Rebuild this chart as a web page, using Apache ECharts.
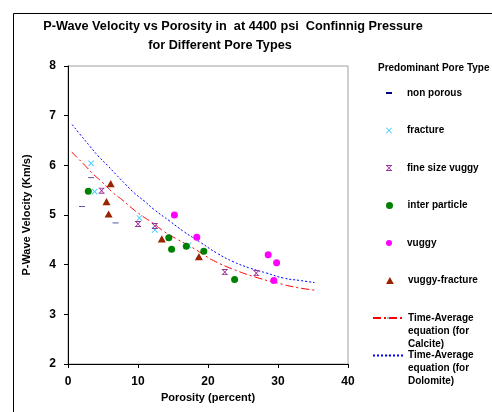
<!DOCTYPE html>
<html><head><meta charset="utf-8">
<script src="https://cdn.jsdelivr.net/npm/echarts@6/dist/echarts.min.js"></script>
<style>html,body{margin:0;padding:0;background:#fff}#c{width:492px;height:412px}</style>
</head><body><div id="c"></div>
<script>
var titleLine1 = 'P-Wave Velocity vs Porosity in  at 4400 psi  Confinnig Pressure';
var titleLine2 = 'for Different Pore Types';
var xName = 'Porosity (percent)';
var yName = 'P-Wave Velocity (Km/s)';
var legendTitle = 'Predominant Pore Type';
var seriesNames = ['non porous','fracture','fine size vuggy','inter particle','vuggy','vuggy-fracture',
  'Time-Average\nequation (for\nCalcite)','Time-Average\nequation (for\nDolomite)'];

var nonPorous = [[2.0,5.17],[3.3,5.75],[6.8,4.84]];
var fracture = [[3.3,6.04],[3.8,5.47],[10.2,4.94],[12.4,4.70],[17.2,4.39]];
var fineVuggy = [[4.8,5.49],[10.0,4.82],[12.4,4.78],[22.4,3.85],[26.9,3.83]];
var interParticle = [[2.9,5.48],[14.4,4.54],[14.8,4.31],[16.9,4.37],[19.4,4.27],[23.8,3.70]];
var vuggy = [[15.2,5.00],[18.4,4.55],[28.6,4.20],[29.8,4.04],[29.4,3.68]];
var vuggyFracture = [[6.1,5.63],[5.5,5.27],[5.8,5.02],[13.4,4.52],[18.7,4.16]];

var calcite = [[0.5,6.27],[2.2,6.03],[3.7,5.81],[4.9,5.66],[6.5,5.44],[7.7,5.31],[9.1,5.14],[10.6,4.98],
  [12.0,4.85],[13.7,4.67],[15.6,4.51],[17.7,4.35],[19.4,4.20],[20.8,4.08],[23.9,3.89],[27.0,3.74],
  [29.9,3.63],[32.7,3.54],[35.6,3.48]];
var dolomite = [[0.6,6.82],[1.8,6.61],[3.1,6.39],[4.3,6.19],[5.7,5.99],[6.9,5.81],[8.2,5.62],[9.5,5.44],
  [11.0,5.27],[12.2,5.12],[14.6,4.87],[16.5,4.67],[18.9,4.45],[21.3,4.23],[23.6,4.06],[26.0,3.93],
  [28.4,3.83],[30.8,3.73],[33.2,3.68],[35.2,3.64]];

var xTicks = {min:0, max:40, interval:10};
var yTicks = {min:2, max:8, interval:1};

var FONT = 'Liberation Sans, Arial, sans-serif';
var symDash = 'path://M0,0 L3,0 L3,1 L0,1 Z';
var symX = 'path://M0,1 L1,0 L5,4 L9,0 L10,1 L6,5 L10,9 L9,10 L5,6 L1,10 L0,9 L4,5 Z';
var symAst = 'path://M0,0 L10,0 L10,1.6 L0,1.6 Z M0,8.4 L10,8.4 L10,10 L0,10 Z M1,1.6 L2.8,1.6 L5,4 L7.2,1.6 L9,1.6 L6,5 L9,8.4 L7.2,8.4 L5,6 L2.8,8.4 L1,8.4 L4,5 Z';
var symTri = 'path://M5,0 L10,9 L0,9 Z';

var scatterDefs = [
  {data:nonPorous, symbol:symDash, size:[6,2], color:'#000080', lh:2},
  {data:fracture, symbol:symX, size:6, color:'#33CCFF', lh:6},
  {data:fineVuggy, symbol:symAst, size:6, color:'#993399', lh:6},
  {data:interParticle, symbol:'circle', size:7, color:'#008000', lh:7},
  {data:vuggy, symbol:'circle', size:7, color:'#FF00FF', lh:6},
  {data:vuggyFracture, symbol:symTri, size:8, color:'#992200', lh:7}
];
var legendCenters = [93,130.5,168,205.5,243,280.5];

var series = [];
var legends = [];
series.push({name:seriesNames[6], type:'line', data:calcite, showSymbol:false, symbol:'none', smooth:true, z:1,
  lineStyle:{color:'#FF0000', width:1, type:[8,3,2,3]}});
series.push({name:seriesNames[7], type:'line', data:dolomite, showSymbol:false, symbol:'none', smooth:true, z:1,
  lineStyle:{color:'#0000FF', width:1, type:[2,2]}});
scatterDefs.forEach(function(d,i){
  series.push({name:seriesNames[i], type:'scatter', data:d.data, symbol:d.symbol, symbolSize:d.size,
    symbolKeepAspect:true, itemStyle:{color:d.color, opacity:1}, z:3});
  legends.push({data:[seriesNames[i]], orient:'vertical', left:386, top:legendCenters[i]-6.5, padding:0,
    itemWidth:26, itemHeight:d.lh, selectedMode:false,
    textStyle:{fontFamily:FONT, fontWeight:'bold', fontSize:10, color:'#000', lineHeight:13}});
});
[[6,318],[7,355.5]].forEach(function(p){
  legends.push({data:[seriesNames[p[0]]], orient:'vertical', left:372, top:p[1]-32.5, padding:0,
    itemWidth:30, itemHeight:2, selectedMode:false,
    formatter:function(name){ return '\n\n' + name; },
    textStyle:{fontFamily:FONT, fontWeight:'bold', fontSize:10, color:'#000', lineHeight:13}});
});

var chart = echarts.init(document.getElementById('c'), null, {renderer:'canvas'});
chart.setOption({
  backgroundColor:'#fff',
  animation:false,
  title:[{text:legendTitle, left:378, top:63, padding:0,
    textStyle:{fontFamily:FONT, fontWeight:'bold', fontSize:10, color:'#000'}}],
  graphic:[
    {type:'rect', left:11, top:11, shape:{x:0.5,y:0.5,width:490,height:410}, style:{fill:null, stroke:'#000', lineWidth:1}, silent:true},
    {type:'text', x:233, y:26, style:{text:titleLine1, align:'center', verticalAlign:'middle', font:'bold 12.7px '+FONT, fill:'#000'}},
    {type:'text', x:220, y:45, style:{text:titleLine2, align:'center', verticalAlign:'middle', font:'bold 12.7px '+FONT, fill:'#000'}}
  ],
  legend:legends,
  grid:{left:68, top:66, width:280, height:298, show:true, borderColor:'#A0A0A0', borderWidth:1, backgroundColor:'transparent'},
  xAxis:{type:'value', min:xTicks.min, max:xTicks.max, interval:xTicks.interval,
    name:xName, nameLocation:'middle', nameGap:24,
    nameTextStyle:{fontFamily:FONT, fontWeight:'bold', fontSize:11, color:'#000'},
    axisLine:{show:true, onZero:false, lineStyle:{color:'#000', width:1}},
    axisTick:{show:true, inside:false, length:4, lineStyle:{color:'#000'}},
    axisLabel:{margin:12, fontFamily:FONT, fontWeight:'bold', fontSize:12, color:'#000'},
    splitLine:{show:false}},
  yAxis:{type:'value', min:yTicks.min, max:yTicks.max, interval:yTicks.interval,
    name:yName, nameLocation:'middle', nameGap:36,
    nameTextStyle:{fontFamily:FONT, fontWeight:'bold', fontSize:11, color:'#000'},
    axisLine:{show:true, onZero:false, lineStyle:{color:'#000', width:1}},
    axisTick:{show:true, inside:false, length:4, lineStyle:{color:'#000'}},
    axisLabel:{margin:12, fontFamily:FONT, fontWeight:'bold', fontSize:12, color:'#000'},
    splitLine:{show:false}},
  series:series
});
</script></body></html>
